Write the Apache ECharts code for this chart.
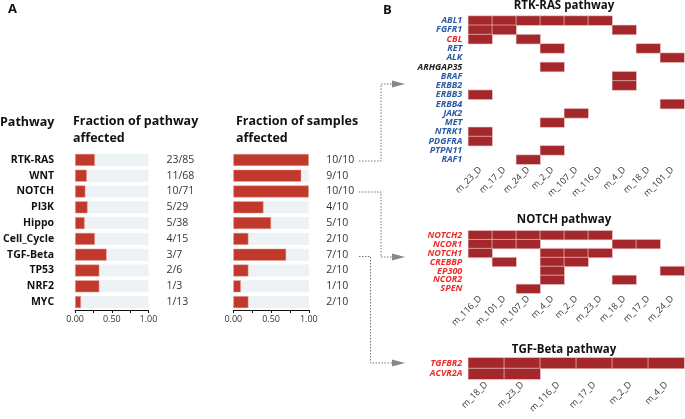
<!DOCTYPE html>
<html>
<head>
<meta charset="utf-8">
<script src="https://cdn.jsdelivr.net/npm/echarts@6/dist/echarts.min.js"></script>
<style>
  html, body { margin: 0; padding: 0; background: #fff; }
  #main { width: 685px; height: 419px; }
</style>
</head>
<body>
<div id="main"></div>
<script>
// ---- panel A data ----
const pathways = ["RTK-RAS", "WNT", "NOTCH", "PI3K", "Hippo", "Cell_Cycle", "TGF-Beta", "TP53", "NRF2", "MYC"];
const pathwayFrac = [0.27, 0.16, 0.14, 0.17, 0.13, 0.27, 0.43, 0.33, 0.33, 0.08];
const pathwayCounts = ["23/85", "11/68", "10/71", "5/29", "5/38", "4/15", "3/7", "2/6", "1/3", "1/13"];
const sampleFrac = [1.0, 0.9, 1.0, 0.4, 0.5, 0.2, 0.7, 0.2, 0.1, 0.2];
const sampleCounts = ["10/10", "9/10", "10/10", "4/10", "5/10", "2/10", "7/10", "2/10", "1/10", "2/10"];

// ---- panel B data ----
const rtkSamples = ["m_23_D", "m_17_D", "m_24_D", "m_2_D", "m_107_D", "m_116_D", "m_4_D", "m_18_D", "m_101_D"];
const rtkGenes = ["ABL1", "FGFR1", "CBL", "RET", "ALK", "ARHGAP35", "BRAF", "ERBB2", "ERBB3", "ERBB4", "JAK2", "MET", "NTRK1", "PDGFRA", "PTPN11", "RAF1"];
const rtkGeneColor = ["b", "b", "r", "b", "b", "k", "b", "b", "b", "b", "b", "b", "b", "b", "b", "b"];
const rtkMatrix = [
  [1, 1, 1, 1, 1, 1, 0, 0, 0],
  [1, 1, 0, 0, 0, 0, 1, 0, 0],
  [1, 0, 1, 0, 0, 0, 0, 0, 0],
  [0, 0, 0, 1, 0, 0, 0, 1, 0],
  [0, 0, 0, 0, 0, 0, 0, 0, 1],
  [0, 0, 0, 1, 0, 0, 0, 0, 0],
  [0, 0, 0, 0, 0, 0, 1, 0, 0],
  [0, 0, 0, 0, 0, 0, 1, 0, 0],
  [1, 0, 0, 0, 0, 0, 0, 0, 0],
  [0, 0, 0, 0, 0, 0, 0, 0, 1],
  [0, 0, 0, 0, 1, 0, 0, 0, 0],
  [0, 0, 0, 1, 0, 0, 0, 0, 0],
  [1, 0, 0, 0, 0, 0, 0, 0, 0],
  [1, 0, 0, 0, 0, 0, 0, 0, 0],
  [0, 0, 0, 1, 0, 0, 0, 0, 0],
  [0, 0, 1, 0, 0, 0, 0, 0, 0]
];

const notchSamples = ["m_116_D", "m_101_D", "m_107_D", "m_4_D", "m_2_D", "m_23_D", "m_18_D", "m_17_D", "m_24_D"];
const notchGenes = ["NOTCH2", "NCOR1", "NOTCH1", "CREBBP", "EP300", "NCOR2", "SPEN"];
const notchMatrix = [
  [1, 1, 1, 1, 1, 1, 0, 0, 0],
  [1, 1, 1, 0, 0, 0, 1, 1, 0],
  [1, 0, 0, 1, 1, 1, 0, 0, 0],
  [0, 1, 0, 1, 1, 0, 0, 0, 0],
  [0, 0, 0, 1, 0, 0, 0, 0, 1],
  [0, 0, 0, 1, 0, 0, 1, 0, 0],
  [0, 0, 1, 0, 0, 0, 0, 0, 0]
];

const tgfSamples = ["m_18_D", "m_23_D", "m_116_D", "m_17_D", "m_2_D", "m_4_D"];
const tgfGenes = ["TGFBR2", "ACVR2A"];
const tgfMatrix = [
  [1, 1, 1, 1, 1, 1],
  [1, 1, 0, 0, 0, 0]
];

const FONT = "Open Sans";
const BAR_RED = "#c0392b";
const TILE_RED = "#a4282b";
const geneColors = { b: "#2a5aa6", r: "#ee2a2a", k: "#222222" };

function toCells(matrix) {
  const out = [];
  matrix.forEach((row, gi) => {
    row.forEach((v, si) => {
      if (v) out.push([si, gi, v]);
    });
  });
  return out;
}

const chart = echarts.init(document.getElementById("main"));

// bar panels
function barGrid(left) {
  return { left: left, top: 152, width: 75.5, height: 158 };
}
function fracXAxis(gi) {
  return {
    type: "value", gridIndex: gi, min: 0, max: 1, interval: 0.25,
    axisLine: { show: true, lineStyle: { color: "#111", width: 1 } },
    axisTick: { show: true, length: 3, lineStyle: { color: "#111" } },
    splitLine: { show: false },
    axisLabel: {
      margin: 5, fontFamily: FONT, fontSize: 9, color: "#333",
      formatter: v => (v === 0 || v === 0.5 || v === 1) ? v.toFixed(2) : ""
    }
  };
}
function catYAxis(gi, data, pos, opts) {
  return Object.assign({
    type: "category", gridIndex: gi, data: data, inverse: true, position: pos,
    axisLine: { show: false }, axisTick: { show: false }, splitLine: { show: false }
  }, opts);
}

// heatmap panels
function heatXAxis(gi, data) {
  return {
    type: "category", gridIndex: gi, data: data,
    axisLine: { show: false }, axisTick: { show: false }, splitLine: { show: false },
    axisLabel: { rotate: 45, margin: 4, fontFamily: FONT, fontSize: 9, color: "#333", interval: 0 }
  };
}
function heatYAxis(gi, data, colorFn) {
  return {
    type: "category", gridIndex: gi, data: data, inverse: true,
    axisLine: { show: false }, axisTick: { show: false }, splitLine: { show: false },
    axisLabel: {
      margin: 6, fontFamily: FONT, fontSize: 9, fontStyle: "italic", fontWeight: "bold",
      interval: 0, color: colorFn
    }
  };
}
function heatSeries(xi, yi, matrix) {
  return {
    type: "heatmap", xAxisIndex: xi, yAxisIndex: yi, data: toCells(matrix),
    itemStyle: { color: TILE_RED, borderColor: "#f3d6d6", borderWidth: 0.6 },
    emphasis: { disabled: true }
  };
}

const dash = { stroke: "#777", lineWidth: 1, lineDash: [1.5, 1.5], fill: null };
function connector(points) {
  return { type: "polyline", shape: { points: points }, style: dash, silent: true };
}
function arrowHead(x, y) {
  return {
    type: "polygon", silent: true,
    shape: { points: [[x - 13, y - 3.5], [x, y], [x - 13, y + 3.5]] },
    style: { fill: "#888" }
  };
}
function label(text, x, y, size, align) {
  return {
    type: "text", x: x, y: y, silent: true,
    style: {
      text: text, fontFamily: FONT, fontSize: size, fontWeight: "bold", fill: "#111",
      align: align || "left", verticalAlign: "middle"
    }
  };
}

const option = {
  animation: false,
  grid: [
    barGrid(73),
    barGrid(233.3),
    { left: 468.3, top: 16, width: 216, height: 148.3 },
    { left: 468.3, top: 230.7, width: 216, height: 62.6 },
    { left: 468.3, top: 357.7, width: 216, height: 21.6 }
  ],
  xAxis: [
    fracXAxis(0),
    fracXAxis(1),
    heatXAxis(2, rtkSamples),
    heatXAxis(3, notchSamples),
    heatXAxis(4, tgfSamples)
  ],
  yAxis: [
    catYAxis(0, pathways, "left", { axisLabel: { margin: 21, fontFamily: FONT, fontSize: 10.5, fontWeight: "bold", color: "#111" } }),
    catYAxis(1, pathways, "left", { axisLabel: { show: false } }),
    catYAxis(0, pathwayCounts, "right", { axisLabel: { margin: 18, fontFamily: FONT, fontSize: 10.5, color: "#333" } }),
    catYAxis(1, sampleCounts, "right", { axisLabel: { margin: 17.5, fontFamily: FONT, fontSize: 10.5, color: "#333" } }),
    heatYAxis(2, rtkGenes, (v, i) => geneColors[rtkGeneColor[i]]),
    heatYAxis(3, notchGenes, () => geneColors.r),
    heatYAxis(4, tgfGenes, () => geneColors.r)
  ],
  series: [
    {
      type: "bar", xAxisIndex: 0, yAxisIndex: 0, data: pathwayFrac, barWidth: 12,
      itemStyle: { color: BAR_RED, borderColor: "#e9a9a2", borderWidth: 0.5 },
      showBackground: true, backgroundStyle: { color: "#edf2f5" }
    },
    {
      type: "bar", xAxisIndex: 1, yAxisIndex: 1, data: sampleFrac, barWidth: 12,
      itemStyle: { color: BAR_RED, borderColor: "#e9a9a2", borderWidth: 0.5 },
      showBackground: true, backgroundStyle: { color: "#edf2f5" }
    },
    heatSeries(2, 4, rtkMatrix),
    heatSeries(3, 5, notchMatrix),
    heatSeries(4, 6, tgfMatrix)
  ],
  graphic: [
    label("A", 8, 9, 13),
    label("B", 383, 10, 13),
    label("Pathway", 0, 122, 12.5),
    label("Fraction of pathway", 73, 121, 12.5),
    label("affected", 73, 138, 12.5),
    label("Fraction of samples", 236, 121, 12.5),
    label("affected", 236, 138, 12.5),
    label("RTK-RAS pathway", 564, 6, 11.5, "center"),
    label("NOTCH pathway", 564, 220, 11.5, "center"),
    label("TGF-Beta pathway", 564, 350, 11.5, "center"),
    connector([[359, 161], [381, 161], [381, 84], [392, 84]]),
    arrowHead(405, 84),
    connector([[359, 192], [381, 192], [381, 257], [392, 257]]),
    arrowHead(405, 257),
    connector([[359, 256.5], [370.5, 256.5], [370.5, 363], [392, 363]]),
    arrowHead(405, 363)
  ]
};
chart.setOption(option);
</script>
</body>
</html>
